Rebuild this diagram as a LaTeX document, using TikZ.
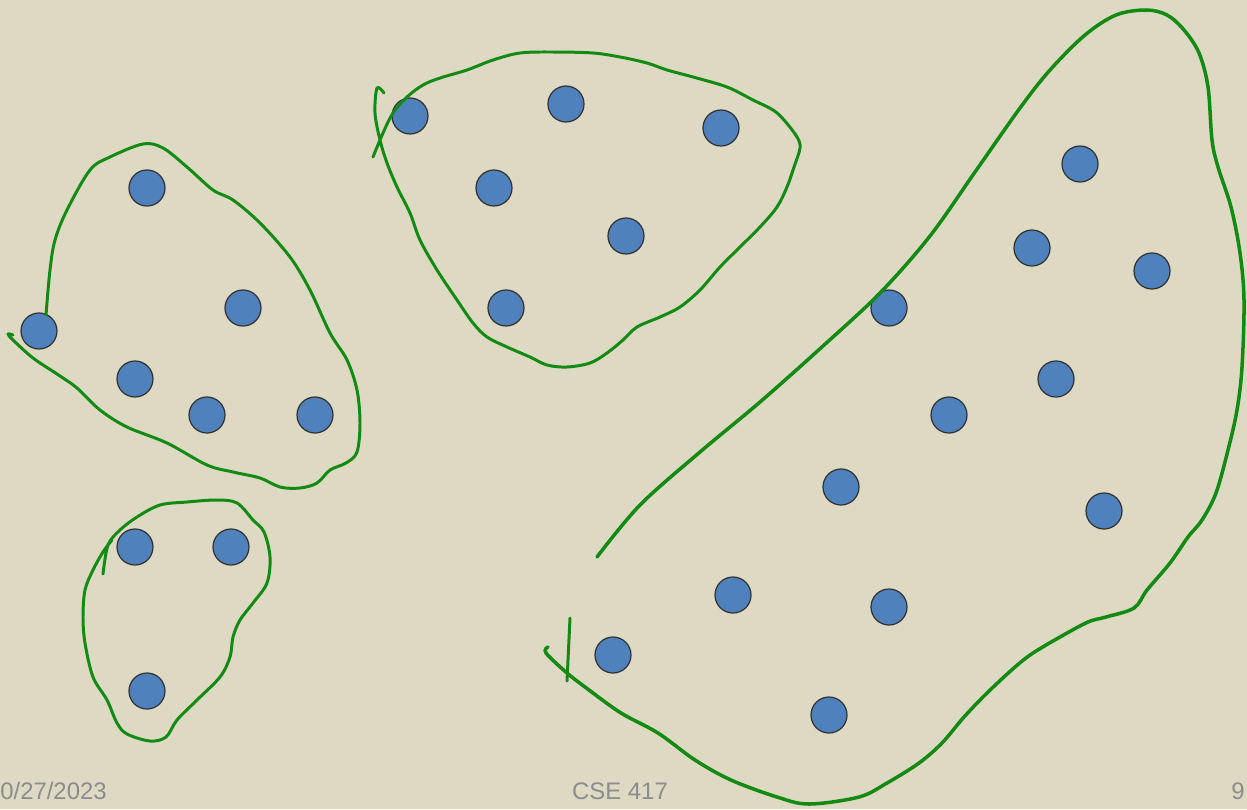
\documentclass[tikz,border=0pt]{standalone}
\usepackage{fontspec}
\setmainfont{Liberation Sans}
\usepackage{tikz}
\usetikzlibrary{positioning}
\definecolor{mPaper}{HTML}{DDD9C3}
\definecolor{mDot}{HTML}{4F81BD}
\definecolor{mInk}{HTML}{138A13}
\definecolor{mFoot}{HTML}{8C8C8C}

\begin{document}
\begin{tikzpicture}[
  x=0.02cm, y=-0.02cm,
  dot/.style={circle, fill=mDot, draw=black!80, line width=0.7pt, minimum size=0.72cm, inner sep=0pt},
  pen/.style={draw=mInk, line width=1.7pt, line cap=round, line join=round},
  foot/.style={font=\fontsize{13.6}{15}\selectfont, text=mFoot, inner sep=0pt},
]
  \useasboundingbox[fill=mPaper] (0,0) rectangle (1247,809);

  % left group
  \node[dot] (a1) at (147,188) {};
  \node[dot] (a2) at (243,308) {};
  \node[dot] (a3) at (39,331) {};
  \node[dot] (a4) at (135,379) {};
  \node[dot] (a5) at (207,415) {};
  \node[dot] (a6) at (315,415) {};

  % small group
  \node[dot] (b1) at (135,547) {};
  \node[dot] (b2) at (231,547) {};
  \node[dot] (b3) at (147,691) {};

  % top group
  \node[dot] (c1) at (410,116) {};
  \node[dot] (c2) at (566,104) {};
  \node[dot] (c3) at (721,128) {};
  \node[dot] (c4) at (494,188) {};
  \node[dot] (c5) at (626,236) {};
  \node[dot] (c6) at (506,308) {};

  % big group
  \node[dot] (d1) at (1080,164) {};
  \node[dot] (d2) at (1032,248) {};
  \node[dot] (d3) at (1152,271) {};
  \node[dot] (d4) at (889,308) {};
  \node[dot] (d5) at (1056,379) {};
  \node[dot] (d6) at (949,415) {};
  \node[dot] (d7) at (841,487) {};
  \node[dot] (d8) at (1104,511) {};
  \node[dot] (d9) at (733,595) {};
  \node[dot] (d10) at (889,607) {};
  \node[dot] (d11) at (613,655) {};
  \node[dot] (d12) at (829,715) {};

  % hand-drawn loops
  \draw[pen] plot[smooth, tension=0.55] coordinates {
    (46,315) (50,270) (55,240) (67,210) (90,170) (110,157) (143,144) (163,148)
    (187,167) (213,190) (233,200) (260,223) (290,257) (310,290) (330,333)
    (347,360) (357,390) (360,423) (357,452) (346,463) (330,470) (317,483)
    (300,488) (280,487) (260,478) (233,472) (207,465) (167,443) (127,427)
    (100,410) (77,388) (57,374) (33,358) (13,340) (8,334) (13,335)};

  \draw[pen] plot[smooth, tension=0.55] coordinates {
    (103,574) (108,545) (120,530) (137,517) (160,505) (187,502) (217,500)
    (237,503) (253,520) (264,532) (270,557) (267,583) (253,603) (240,620)
    (233,637) (230,657) (220,677) (197,700) (177,720) (166,737) (150,741)
    (127,734) (117,723) (107,700) (93,677) (85,643) (83,617) (85,590)
    (93,570) (103,552) (112,540)};

  \draw[pen] plot[smooth, tension=0.55] coordinates {
    (384,93) (377,88) (375,113) (380,140) (387,163) (397,187) (410,213)
    (420,240) (437,270) (457,300) (473,323) (487,337) (507,347) (530,357)
    (547,365) (567,367) (590,363) (607,353) (623,340) (637,327) (660,317)
    (680,307) (700,290) (720,267) (740,247) (760,227) (777,207) (787,187)
    (794,167) (800,148) (797,137) (784,120) (773,110) (753,100) (727,87)
    (693,77) (667,70) (647,63) (620,57) (593,53) (553,52) (520,53) (493,60)
    (467,70) (440,78) (423,85) (407,97) (393,113) (383,133) (373,157)};

  \draw[pen, line width=2pt] plot[smooth, tension=0.55] coordinates {
    (597,557) (640,505) (700,452) (760,402) (823,346) (880,293) (930,236)
    (975,172) (1020,108) (1050,70) (1085,35) (1116,15)
    (1146,10) (1167,15) (1184,30) (1199,53) (1208,87) (1212,140) (1218,167)
    (1231,207) (1240,253) (1244,300) (1242,367) (1237,410) (1228,450)
    (1216,493) (1202,520) (1188,537) (1170,563) (1147,590) (1134,608)
    (1106,617) (1088,622) (1060,637) (1033,653) (1015,667) (987,693)
    (964,717) (942,743) (919,763) (887,783) (859,797) (809,804) (777,797)
    (731,780) (695,760) (658,733) (621,713) (589,690) (567,673) (546,653)
    (548,647)};
  \draw[pen] (570,618) -- (567,681);

  % footer
  \node[foot, anchor=base west] (date) at (0,799) {0/27/2023};
  \node[foot, anchor=base] (course) at (620,799) {CSE 417};
  \node[foot, anchor=base east] (page) at (1245,799) {9};
\end{tikzpicture}
\end{document}
